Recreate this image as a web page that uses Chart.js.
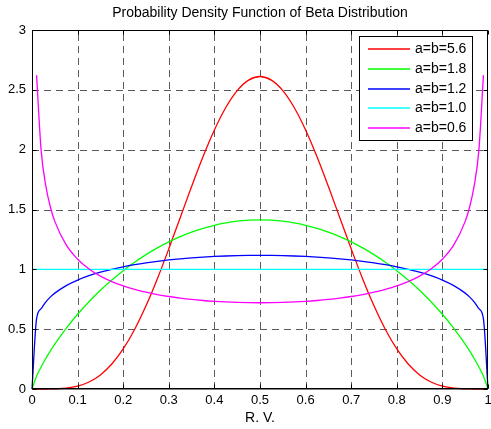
<!DOCTYPE html>
<html>
<head>
<meta charset="utf-8">
<script src="https://cdn.jsdelivr.net/npm/chart.js@4.4.0/dist/chart.umd.min.js"></script>
<style>
  html, body { margin: 0; padding: 0; background: #fff; }
  #wrap { width: 491px; height: 429px; }
</style>
</head>
<body>
<div id="wrap"><canvas id="beta" width="491" height="429"></canvas></div>
<script>
// sample points along the R.V. axis (denser near the edges)
const xs = [0, 0.01, 0.02, 0.03, 0.04, 0.05, 0.075, 0.1, 0.125, 0.15, 0.175, 0.2, 0.225, 0.25, 0.275, 0.3,
    0.325, 0.35, 0.375, 0.4, 0.425, 0.45, 0.475, 0.5, 0.525, 0.55, 0.575, 0.6, 0.625, 0.65, 0.675, 0.7,
    0.725, 0.75, 0.775, 0.8, 0.825, 0.85, 0.875, 0.9, 0.925, 0.95, 0.96, 0.97, 0.98, 0.99, 1];

const seriesLabels = ['a=b=5.6', 'a=b=1.8', 'a=b=1.2', 'a=b=1.0', 'a=b=0.6'];
const seriesColors = ['#ff0000', '#00ff00', '#0000ff', '#00ffff', '#ff00ff'];

const pdf56 = [0, 0, 0, 0.0001, 0.0005, 0.0013, 0.0072, 0.0238, 0.0583, 0.1179, 0.2089, 0.3351, 0.4978, 0.6952,
    0.9220, 1.1712, 1.4313, 1.6922, 1.9409, 2.1645, 2.3524, 2.4938, 2.5813, 2.6114, 2.5813, 2.4938, 2.3524,
    2.1645, 1.9409, 1.6922, 1.4313, 1.1712, 0.9220, 0.6952, 0.4978, 0.3351, 0.2089, 0.1179, 0.0583, 0.0238,
    0.0072, 0.0013, 0.0005, 0.0001, 0, 0, 0];
const pdf18 = [0, 0.1068, 0.1844, 0.2530, 0.3158, 0.3744, 0.5069, 0.6243, 0.7296, 0.8247, 0.9110, 0.9891, 1.0595,
    1.1229, 1.1794, 1.2295, 1.2732, 1.3107, 1.3425, 1.3681, 1.3880, 1.4023, 1.4107, 1.4135, 1.4107, 1.4023,
    1.3880, 1.3681, 1.3425, 1.3107, 1.2732, 1.2295, 1.1794, 1.1229, 1.0595, 0.9891, 0.9110, 0.8247, 0.7296,
    0.6243, 0.5069, 0.3744, 0.3158, 0.2530, 0.1844, 0.1068, 0];
const pdf12 = [0, 0.5854, 0.6711, 0.7263, 0.7677, 0.8011, 0.8641, 0.9103, 0.9465, 0.9760, 1.0005, 1.0213, 1.0390,
    1.0542, 1.0673, 1.0784, 1.0878, 1.0958, 1.1023, 1.1076, 1.1116, 1.1144, 1.1160, 1.1167, 1.1160, 1.1144,
    1.1116, 1.1076, 1.1023, 1.0958, 1.0878, 1.0784, 1.0673, 1.0542, 1.0390, 1.0213, 1.0005, 0.9760, 0.9465,
    0.9103, 0.8641, 0.8011, 0.7677, 0.7263, 0.6711, 0.5854, 0];
const pdf10 = [1, 1, 1, 1, 1, 1, 1, 1, 1, 1, 1, 1, 1, 1, 1, 1, 1, 1, 1, 1, 1, 1, 1, 1,
    1, 1, 1, 1, 1, 1, 1, 1, 1, 1, 1, 1, 1, 1, 1, 1, 1, 1, 1, 1, 1, 1, 1];
const pdf06 = [null, 2.623, 1.9959, 1.7040, 1.5252, 1.4007, 1.2038, 1.0848, 1.0034, 0.9437, 0.8980, 0.8617, 0.8326,
    0.8088, 0.7891, 0.7729, 0.7596, 0.7486, 0.7397, 0.7327, 0.7274, 0.7237, 0.7216, 0.7209, 0.7216, 0.7237,
    0.7274, 0.7327, 0.7397, 0.7486, 0.7596, 0.7729, 0.7891, 0.8088, 0.8326, 0.8617, 0.8980, 0.9437, 1.0034,
    1.0848, 1.2038, 1.4007, 1.5252, 1.7040, 1.9959, 2.623, null];

const xTicks = [0, 0.1, 0.2, 0.3, 0.4, 0.5, 0.6, 0.7, 0.8, 0.9, 1];
const yTicks = [0, 0.5, 1, 1.5, 2, 2.5, 3];

const FONT = "'Liberation Sans', Arial, Helvetica, sans-serif";

// MATLAB-ish axes: dashed grid, box and inward ticks
const matlabAxes = {
    id: 'matlabAxes',
    beforeDatasetsDraw(chart) {
        const { ctx, chartArea: a, scales: { x, y } } = chart;
        ctx.save();
        ctx.strokeStyle = '#5a5a5a';
        ctx.lineWidth = 1;
        ctx.setLineDash([7, 5]);
        xTicks.slice(1, -1).forEach(v => {
            const px = Math.round(x.getPixelForValue(v)) + 0.5;
            ctx.beginPath(); ctx.moveTo(px, a.bottom); ctx.lineTo(px, a.top); ctx.stroke();
        });
        yTicks.slice(1, -1).forEach(v => {
            const py = Math.round(y.getPixelForValue(v)) + 0.5;
            ctx.beginPath(); ctx.moveTo(a.left, py); ctx.lineTo(a.right, py); ctx.stroke();
        });
        ctx.restore();
    },
    afterDatasetsDraw(chart) {
        const { ctx, chartArea: a, scales: { x, y } } = chart;
        ctx.save();
        ctx.strokeStyle = '#000';
        ctx.lineWidth = 1;
        const L = Math.round(a.left) + 0.5, R = Math.round(a.right) - 0.5;
        const T = Math.round(a.top) + 0.5, B = Math.round(a.bottom) - 0.5;
        ctx.strokeRect(L, T, R - L, B - T);
        ctx.beginPath(); ctx.moveTo(L, B + 0.5); ctx.lineTo(R, B + 0.5); ctx.stroke();
        const tl = 4;
        ctx.beginPath();
        xTicks.forEach(v => {
            const px = Math.round(x.getPixelForValue(v)) + 0.5;
            ctx.moveTo(px, B); ctx.lineTo(px, B - tl);
            ctx.moveTo(px, T); ctx.lineTo(px, T + tl);
        });
        yTicks.forEach(v => {
            const py = Math.round(y.getPixelForValue(v)) + 0.5;
            ctx.moveTo(L, py); ctx.lineTo(L + tl, py);
            ctx.moveTo(R, py); ctx.lineTo(R - tl, py);
        });
        ctx.stroke();
        ctx.restore();
    },
    afterDraw(chart) {
        // legend box inside the top right corner
        const { ctx, chartArea: a } = chart;
        const left = Math.round(a.left) + 327, top = Math.round(a.top) + 6, w = 113, h = 104;
        ctx.save();
        ctx.fillStyle = '#fff';
        ctx.fillRect(left, top, w, h);
        ctx.strokeStyle = '#000';
        ctx.lineWidth = 1;
        ctx.strokeRect(left + 0.5, top + 0.5, w, h);
        ctx.font = '14px ' + FONT;
        ctx.textBaseline = 'middle';
        ctx.textAlign = 'left';
        chart.data.datasets.forEach((ds, i) => {
            const yy = Math.round(top + 13 + i * 19.75);
            ctx.strokeStyle = ds.borderColor;
            ctx.lineWidth = 1.3;
            ctx.beginPath(); ctx.moveTo(left + 9, yy); ctx.lineTo(left + 51, yy); ctx.stroke();
            ctx.fillStyle = '#000';
            ctx.fillText(ds.label, left + 56, yy + 0.5);
        });
        ctx.restore();
    }
};

const seriesValues = [pdf56, pdf18, pdf12, pdf10, pdf06];

const datasets = seriesValues.map((vals, i) => ({
    label: seriesLabels[i],
    data: xs.map((x, j) => ({ x: x, y: vals[j] })),
    borderColor: seriesColors[i],
    backgroundColor: seriesColors[i],
    borderWidth: 1.3,
    pointRadius: 0,
    cubicInterpolationMode: 'monotone',
    spanGaps: false,
    clip: 3,
    order: seriesValues.length - i
}));

new Chart(document.getElementById('beta'), {
    type: 'line',
    data: { datasets },
    options: {
        responsive: false,
        animation: false,
        devicePixelRatio: 1,
        layout: { padding: { left: 0, right: 0, top: 0, bottom: 0 } },
        plugins: {
            legend: { display: false },
            tooltip: { enabled: false },
            title: {
                display: true,
                fullSize: false,
                text: 'Probability Density Function of Beta Distribution',
                color: '#000',
                font: { family: FONT, size: 14, weight: 'normal' },
                padding: { top: 5, bottom: 8.2 }
            }
        },
        scales: {
            x: {
                type: 'linear',
                min: 0, max: 1,
                grid: { display: false, drawTicks: false },
                border: { display: false },
                afterBuildTicks: s => { s.ticks = xTicks.map(v => ({ value: v })); },
                afterFit: s => { s.height = 40; s.paddingLeft = 0; s.paddingRight = 3; },
                ticks: {
                    color: '#000',
                    padding: 4,
                    maxRotation: 0,
                    font: { family: FONT, size: 13 },
                    callback: v => String(Math.round(v * 10) / 10)
                },
                title: {
                    display: true,
                    text: 'R. V.',
                    color: '#000',
                    font: { family: FONT, size: 14 },
                    padding: { top: 0, bottom: 2 }
                }
            },
            y: {
                type: 'linear',
                min: 0, max: 3,
                grid: { display: false, drawTicks: false },
                border: { display: false },
                afterBuildTicks: s => { s.ticks = yTicks.map(v => ({ value: v })); },
                afterFit: s => { s.width = 32; s.paddingTop = 0; s.paddingBottom = 0; },
                ticks: {
                    color: '#000',
                    padding: 6,
                    font: { family: FONT, size: 13 },
                    callback: v => String(v)
                }
            }
        }
    },
    plugins: [matlabAxes]
});
</script>
</body>
</html>
